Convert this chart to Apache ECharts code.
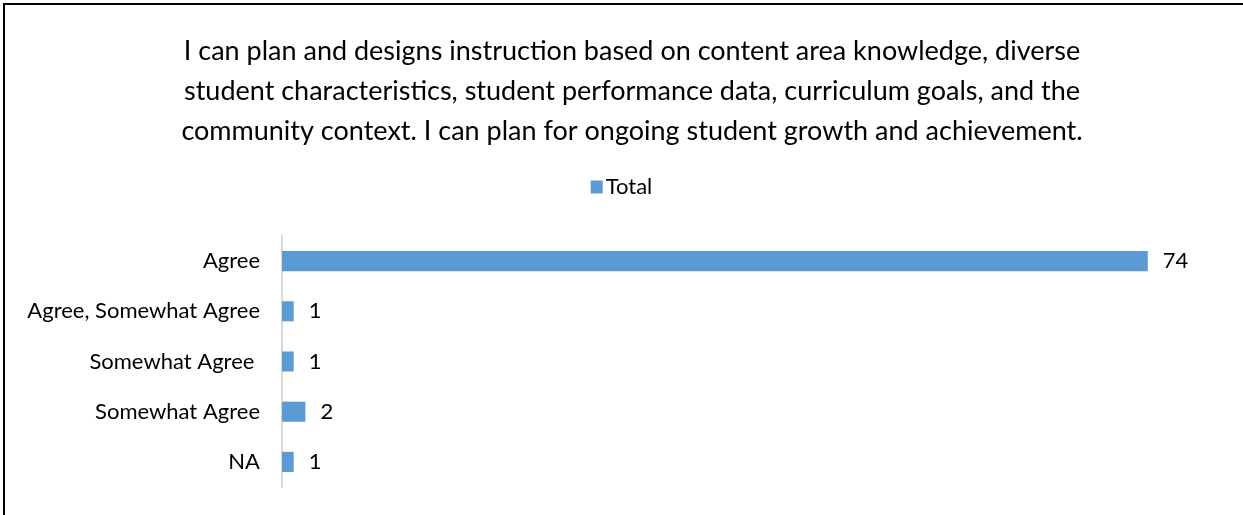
<!DOCTYPE html>
<html>
<head>
<meta charset="utf-8">
<script src="https://cdn.jsdelivr.net/npm/echarts@6/dist/echarts.min.js"></script>
<style>
  html, body { margin: 0; padding: 0; background: #fff; overflow: hidden; }
  #chart { width: 1243px; height: 515px; }
</style>
</head>
<body>
<div id="chart"></div>
<script>
// categories, top to bottom as drawn
const categories = ['Agree', 'Agree, Somewhat Agree', 'Somewhat Agree ', 'Somewhat Agree', 'NA'];
const totals = [74, 1, 1, 2, 1];
const titleLines = [
  'I can plan and designs instruction based on content area knowledge, diverse',
  'student characteristics, student performance data, curriculum goals, and the',
  'community context. I can plan for ongoing student growth and achievement.'
];

const font = 'Lato, "Open Sans", sans-serif';
const chart = echarts.init(document.getElementById('chart'));

chart.setOption({
  animation: false,
  // outer frame of the pasted chart: only left and top edges are in view
  graphic: [{
    type: 'polyline',
    shape: { points: [[4, 515], [4, 4], [1243, 4]] },
    style: { stroke: '#000', lineWidth: 2, fill: null }
  }],
  title: {
    text: titleLines.join('\n'),
    left: 627,
    top: 26,
    textAlign: 'center',
    textStyle: { fontFamily: font, fontSize: 27, fontWeight: 'normal', color: '#000', lineHeight: 40 }
  },
  legend: {
    data: ['Total'],
    left: 'center',
    top: 171,
    itemWidth: 12,
    itemHeight: 13,
    itemGap: 4,
    icon: 'rect',
    textStyle: { fontFamily: font, fontSize: 22, color: '#000', padding: [0, 0, 0, -2] }
  },
  grid: { left: 282, right: 25, top: 236, bottom: 28 },
  xAxis: {
    type: 'value',
    min: 0,
    max: 80,
    show: false
  },
  yAxis: {
    type: 'category',
    inverse: true,
    data: categories,
    axisLine: { show: true, lineStyle: { color: '#d9d9d9', width: 2 } },
    axisTick: { show: false },
    axisLabel: { fontFamily: font, fontSize: 22, color: '#000', margin: 22 }
  },
  series: [{
    name: 'Total',
    type: 'bar',
    data: totals,
    barWidth: '40%',
    itemStyle: { color: '#5b9bd5' },
    label: {
      show: true,
      position: 'right',
      distance: 15,
      fontFamily: font,
      fontSize: 22,
      color: '#000'
    }
  }]
});
</script>
</body>
</html>
